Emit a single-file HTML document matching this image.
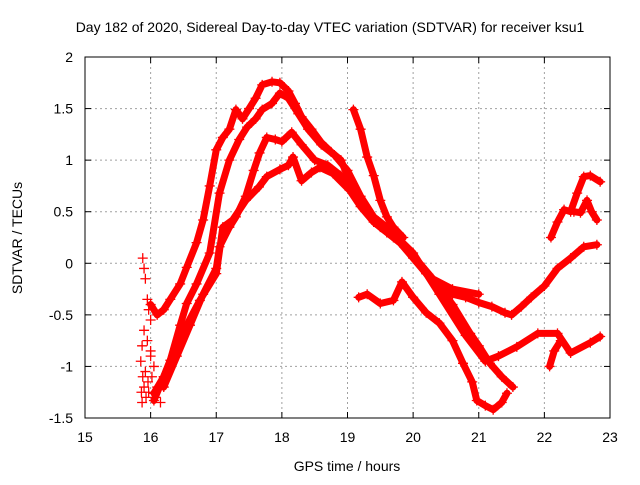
<!DOCTYPE html>
<html><head><meta charset="utf-8"><style>
html,body{margin:0;padding:0;background:#fff;}
svg text{font-family:"Liberation Sans",sans-serif;font-size:14px;fill:#000;}
</style></head><body>
<svg id="chart" width="640" height="480" viewBox="0 0 640 480" xmlns="http://www.w3.org/2000/svg">
<rect width="640" height="480" fill="#fff"/>
<text x="330" y="32" text-anchor="middle">Day 182 of 2020, Sidereal Day-to-day VTEC variation (SDTVAR) for receiver ksu1</text>
<text transform="translate(22,238) rotate(-90)" text-anchor="middle">SDTVAR / TECUs</text>
<text x="347" y="471" text-anchor="middle">GPS time / hours</text>
<g id="grid"></g>
<g id="axes"></g>
<g id="marks"></g>
<rect x="85" y="57" width="525" height="361" fill="none" stroke="#000" stroke-width="1"/>
</svg>
<script>
const xTicks=[15,16,17,18,19,20,21,22,23];
const yTicks=[-1.5,-1,-0.5,0,0.5,1,1.5,2];
const xTickLabels=["15","16","17","18","19","20","21","22","23"];
const yTickLabels=["-1.5","-1","-0.5","0","0.5","1","1.5","2"];
const s1t=[16.0,16.1,16.2,16.3,16.45,16.55,16.7,16.8,16.9,17.0,17.1,17.2,17.3,17.4,17.5,17.6,17.7,17.85,17.97,18.1,18.2,18.3,18.45,18.6,18.75,18.9,19.0,19.1,19.25,19.4,19.6,19.8,20.0,20.2,20.4,20.6,20.8,21.0,21.2,21.4,21.5,21.65,21.8,22.0,22.2,22.4,22.6,22.8];
const s1v=[-0.4,-0.5,-0.45,-0.35,-0.2,-0.04,0.2,0.42,0.75,1.1,1.22,1.3,1.49,1.4,1.5,1.6,1.73,1.76,1.75,1.67,1.55,1.42,1.3,1.17,1.08,1.0,0.85,0.72,0.55,0.4,0.3,0.2,0.06,-0.1,-0.26,-0.3,-0.33,-0.38,-0.42,-0.48,-0.5,-0.42,-0.33,-0.22,-0.05,0.05,0.16,0.18];
const s2t=[16.05,16.2,16.3,16.45,16.55,16.7,16.9,17.05,17.2,17.35,17.47,17.6,17.7,17.85,17.97,18.1,18.25,18.4,18.6,18.8,19.0,19.2,19.4,19.6,20.0,20.4,20.8,21.1,21.3,21.58,21.9,22.2,22.4,22.7,22.85];
const s2v=[-1.26,-1.1,-0.94,-0.6,-0.39,-0.2,0.1,0.68,1.0,1.2,1.32,1.4,1.49,1.55,1.65,1.6,1.45,1.3,1.15,1.05,0.9,0.65,0.45,0.35,0.1,-0.3,-0.7,-0.95,-0.9,-0.81,-0.68,-0.68,-0.87,-0.77,-0.71];
const s3t=[16.2,16.4,16.6,16.8,17.0,17.05,17.2,17.3,17.45,17.57,17.66,17.77,17.9,18.0,18.15,18.3,18.5,18.7,18.9,19.1,19.3,19.5,19.7,19.9,20.1,20.3,20.6,21.0];
const s3v=[-1.2,-0.9,-0.6,-0.3,-0.05,0.16,0.35,0.45,0.65,0.9,1.07,1.22,1.2,1.18,1.27,1.15,1.0,0.95,0.85,0.7,0.5,0.35,0.25,0.15,0.0,-0.15,-0.25,-0.3];
const s4t=[16.05,16.2,16.4,16.55,16.75,17.0,17.1,17.25,17.45,17.65,17.77,17.97,18.1,18.17,18.3,18.45,18.58,18.78,19.03,19.2,19.4,19.6,19.8,20.0,20.2,20.4,20.6,20.87,21.0,21.17,21.35,21.52];
const s4v=[-1.33,-1.1,-0.78,-0.6,-0.36,-0.1,0.35,0.42,0.61,0.74,0.84,0.91,0.95,1.03,0.8,0.88,0.93,0.87,0.71,0.55,0.4,0.3,0.2,0.05,-0.1,-0.23,-0.4,-0.68,-0.8,-0.97,-1.1,-1.2];
const s5t=[19.09,19.2,19.3,19.4,19.5,19.6,19.7,19.85];
const s5v=[1.49,1.3,1.03,0.85,0.61,0.45,0.35,0.25];
const s6t=[19.17,19.3,19.5,19.7,19.83,20.0,20.2,20.4,20.6,20.76,20.9,20.97,21.1,21.22,21.35,21.43];
const s6v=[-0.33,-0.3,-0.39,-0.36,-0.18,-0.33,-0.48,-0.58,-0.75,-0.97,-1.15,-1.33,-1.38,-1.42,-1.35,-1.26];
const s7t=[22.1,22.2,22.3,22.4,22.5,22.6,22.7,22.85];
const s7v=[0.25,0.4,0.52,0.5,0.68,0.84,0.85,0.79];
const s8t=[22.45,22.55,22.65,22.72,22.8];
const s8v=[0.5,0.49,0.61,0.5,0.42];
const s9t=[22.08,22.15,22.25];
const s9v=[-1.0,-0.85,-0.75];
const s10t=[15.88,15.9,15.92,15.95,15.97,16.0,15.87,15.85,15.88,15.9,15.93,15.96,16.0,16.05,16.1,16.15,15.87,15.9,15.95,16.0,15.86,15.92,15.97,16.02,16.08];
const s10v=[0.05,-0.05,-0.15,-0.35,-0.45,-0.55,-0.8,-0.95,-1.1,-1.2,-1.3,-1.15,-0.9,-1.0,-1.2,-1.35,-1.35,-0.65,-0.75,-0.85,-1.25,-1.05,-1.25,-1.1,-1.3];

const NS="http://www.w3.org/2000/svg";
const X=t=>85+(t-15)*525/8;
const Y=v=>418-(v+1.5)*361/3.5;
function mk(tag,attrs,parent){const e=document.createElementNS(NS,tag);for(const k in attrs)e.setAttribute(k,attrs[k]);parent.appendChild(e);return e;}
const grid=document.getElementById('grid'),axes=document.getElementById('axes'),marks=document.getElementById('marks');
xTicks.forEach((t,i)=>{
  const x=X(t);
  if(i>0&&i<xTicks.length-1){const g=mk('line',{x1:x,x2:x,y1:57,y2:418,stroke:'#a0a0a0','stroke-dasharray':'2,3'},grid);
  
  }
  mk('line',{x1:x,x2:x,y1:418,y2:412,stroke:'#000'},axes);
  mk('line',{x1:x,x2:x,y1:57,y2:63,stroke:'#000'},axes);
  const l=mk('text',{x:x,y:442,'text-anchor':'middle'},axes);l.textContent=xTickLabels[i];
  
  
});
yTicks.forEach((v,i)=>{
  const y=Y(v);
  if(i>0&&i<yTicks.length-1){const g=mk('line',{x1:85,x2:610,y1:y,y2:y,stroke:'#a0a0a0','stroke-dasharray':'2,3'},grid);
  
  }
  mk('line',{x1:85,x2:91,y1:y,y2:y,stroke:'#000'},axes);
  mk('line',{x1:610,x2:604,y1:y,y2:y,stroke:'#000'},axes);
  const l=mk('text',{x:73,y:y+5,'text-anchor':'end'},axes);l.textContent=yTickLabels[i];
  
  
});
const series=[[s1t,s1v,1],[s2t,s2v,1],[s3t,s3v,1],[s4t,s4v,1],[s5t,s5v,1],[s6t,s6v,1],[s7t,s7v,1],[s8t,s8v,1],[s9t,s9v,1],[s10t,s10v,0]];
series.forEach((s,k)=>{
  const [ts,vs,line]=s;
  const g=mk('g',{},marks);
  
  
  if(line){
    const pts=ts.map((t,i)=>X(t).toFixed(1)+','+Y(vs[i]).toFixed(1)).join(' ');
    const pl=mk('polyline',{points:pts,fill:'none',stroke:'#f00','stroke-width':7,'stroke-linejoin':'round','stroke-linecap':'round'},g);
    
    
  }
  ts.forEach((t,i)=>{
    const x=X(t),y=Y(vs[i]);
    const p=mk('path',{d:`M${x-5},${y}H${x+5}M${x},${y-5}V${y+5}`,stroke:'#f00','stroke-width':1.3,fill:'none'},g);
    
    
  });
});
</script>
</body></html>
